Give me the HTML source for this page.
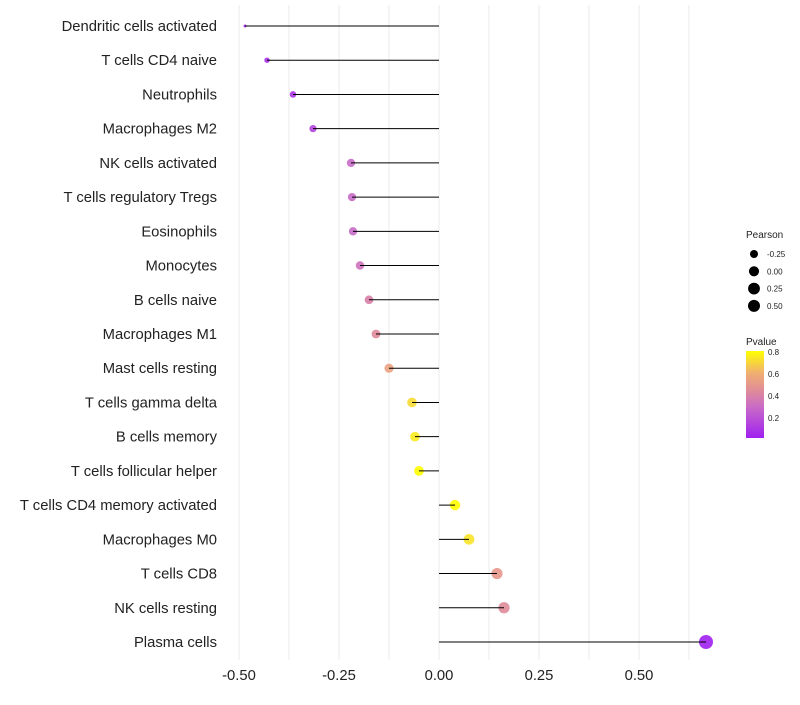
<!DOCTYPE html>
<html><head><meta charset="utf-8"><style>
body{margin:0;background:#fff;font-family:"Liberation Sans",sans-serif}
</style></head><body>
<svg id="c" width="800" height="700" xmlns="http://www.w3.org/2000/svg">
<defs><linearGradient id="pg" x1="0" y1="1" x2="0" y2="0">
<stop offset="0" stop-color="#a020f0"/><stop offset="0.35" stop-color="#c86ac8"/><stop offset="0.55" stop-color="#e08c98"/><stop offset="0.75" stop-color="#f0b070"/><stop offset="1" stop-color="#ffff00"/>
</linearGradient></defs>
</svg>
<script>
const categories=["Dendritic cells activated","T cells CD4 naive","Neutrophils","Macrophages M2","NK cells activated","T cells regulatory  Tregs","Eosinophils","Monocytes","B cells naive","Macrophages M1","Mast cells resting","T cells gamma delta","B cells memory","T cells follicular helper","T cells CD4 memory activated","Macrophages M0","T cells CD8","NK cells resting","Plasma cells"];
const pearson=[-0.485,-0.43,-0.365,-0.315,-0.22,-0.2175,-0.215,-0.1975,-0.175,-0.1575,-0.125,-0.0675,-0.06,-0.05,0.04,0.075,0.145,0.1625,0.6675];
const pvalue=[0.05,0.08,0.1,0.15,0.3,0.3,0.3,0.33,0.4,0.45,0.55,0.72,0.76,0.84,0.85,0.74,0.5,0.45,0.02];
const xTicks=[-0.5,-0.25,0,0.25,0.5];
const sizeLegend=[-0.25,0,0.25,0.5];
const pTicks=[0.2,0.4,0.6,0.8];
const svg=document.getElementById('c');const NS='http://www.w3.org/2000/svg';
function mk(t,a,p){const e=document.createElementNS(NS,t);for(const k in a)e.setAttribute(k,a[k]);(p||svg).appendChild(e);return e;}
const xS=v=>439+v*400;
const yS=i=>26+i*(616/(categories.length-1));
const rS=p=>1.5+5.5*Math.sqrt(Math.max(0,(p+0.485)/1.1525));
function lerp(a,b,t){return a.map((v,i)=>Math.round(v+(b[i]-v)*t));}
function col(p){const t=Math.max(0,Math.min(1,(p-0.02)/0.79));
const s=[[0,[160,32,240]],[0.35,[200,106,200]],[0.55,[224,140,152]],[0.75,[240,176,112]],[1,[255,255,0]]];
for(let i=1;i<s.length;i++)if(t<=s[i][0]){const c=lerp(s[i-1][1],s[i][1],(t-s[i-1][0])/(s[i][0]-s[i-1][0]));return `rgb(${c})`;}return 'rgb(255,255,0)';}
for(let v=-0.5;v<=0.626;v+=0.125){const g=mk('line',{x1:xS(v),x2:xS(v),y1:5,y2:660,stroke:'#ebebeb','stroke-width':1});

}
xTicks.forEach(v=>{const t=mk('text',{x:xS(v),y:680,'text-anchor':'middle','font-size':14.8,fill:'#222'});t.textContent=v.toFixed(2);

});
categories.forEach((c,i)=>{const y=yS(i);
const t=mk('text',{x:217,y:y+5,'text-anchor':'end','font-size':14.8,fill:'#222'});t.textContent=c;


const d=mk('circle',{cx:xS(pearson[i]),cy:y,r:rS(pearson[i]),fill:col(pvalue[i]),'fill-opacity':0.9});


const l=mk('line',{x1:xS(0),x2:xS(pearson[i]),y1:y,y2:y,stroke:'#000','stroke-width':1});

});
let t=mk('text',{x:746,y:238,'font-size':10,fill:'#222'});t.textContent='Pearson';


sizeLegend.forEach((v,i)=>{const y=254+i*17.3;
const d=mk('circle',{cx:754,cy:y,r:Math.min(6,rS(v)),fill:'#000'});


const l=mk('text',{x:767,y:y+3,'font-size':8,fill:'#222'});l.textContent=v.toFixed(2);

});
t=mk('text',{x:746,y:345,'font-size':10,fill:'#222'});t.textContent='Pvalue';


const bar=mk('rect',{x:746,y:351,width:18,height:87,fill:'url(#pg)'});


pTicks.forEach(v=>{const y=438-(v-0.02)*110;
const l=mk('text',{x:768,y:y+3,'font-size':8,fill:'#222'});l.textContent=v.toFixed(1);

});
</script>
</body></html>
